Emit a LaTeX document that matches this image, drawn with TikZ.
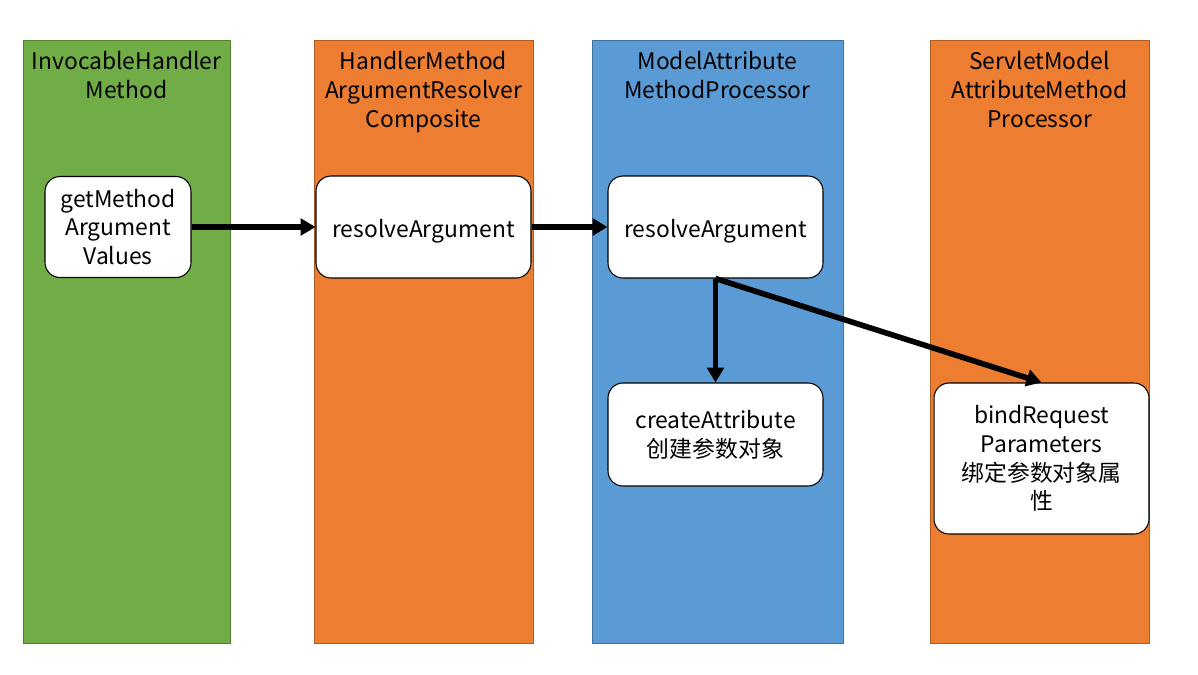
\documentclass[tikz,border=0pt]{standalone}
\usepackage{fontspec}
\setmainfont{Noto Sans CJK SC}
\usetikzlibrary{arrows.meta}
\definecolor{colgreen}{HTML}{70AD47}
\definecolor{colgreenline}{HTML}{507E32}
\definecolor{colorange}{HTML}{ED7D31}
\definecolor{colorangeline}{HTML}{AE5A21}
\definecolor{colblue}{HTML}{5B9BD5}
\definecolor{colblueline}{HTML}{41719C}
\tikzset{
    lane/.style={line width=0.5pt},
    lanetitle/.style={anchor=north, align=center, font=\fontsize{13}{16.4}\selectfont},
    methodbox/.style={draw=black, line width=0.6pt, fill=white, rounded corners=0.3cm,
        align=center, inner sep=2pt, font=\fontsize{13}{16.4}\selectfont},
    callarrow/.style={line width=3.2pt, -{Triangle[length=8.5pt,width=9.5pt]}}
}
\begin{document}
\begin{tikzpicture}[x=0.02cm, y=-0.02cm]
        \useasboundingbox (0,0) rectangle (1198,674);
        % Spalten
        \foreach \xa/\xb/\lanefill/\laneline in {
            23/230/colgreen/colgreenline,
            314/533/colorange/colorangeline,
            592/843/colblue/colblueline,
            930/1149/colorange/colorangeline} {
            \draw[lane, fill=\lanefill, draw=\laneline] (\xa, 40) rectangle (\xb, 643);
        }
        \node[lanetitle] (tinvocable) at (126.5, 45) {InvocableHandler\\Method};
        \node[lanetitle] (tcomposite) at (423.5, 45) {HandlerMethod\\ArgumentResolver\\Composite};
        \node[lanetitle] (tmodelattr) at (717.5, 45) {ModelAttribute\\MethodProcessor};
        \node[lanetitle] (tservlet) at (1039.5, 45) {ServletModel\\AttributeMethod\\Processor};

        % Methoden
        \node[methodbox, minimum width=2.92cm, minimum height=2.02cm] (gmav) at (118, 227)
            {getMethod\\Argument\\Values};
        \node[methodbox, minimum width=4.3cm, minimum height=2.04cm] (resolvecomp) at (423.5, 227)
            {\rule{0pt}{15pt}resolveArgument};
        \node[methodbox, minimum width=4.3cm, minimum height=2.04cm] (resolvemodel) at (715.5, 227)
            {\rule{0pt}{15pt}resolveArgument};
        \node[methodbox, minimum width=4.3cm, minimum height=2.06cm] (createattr) at (715.5, 434.5)
            {createAttribute\\创建参数对象};
        \node[methodbox, minimum width=4.3cm, minimum height=3.02cm] (bindparam) at (1041.5, 458.5)
            {bindRequest\\Parameters\\绑定参数对象属\\性};

        % Aufrufe
        \draw[callarrow] (gmav.east) -- (resolvecomp.west);
        \draw[callarrow] (resolvecomp.east) -- (resolvemodel.west);
        \draw[callarrow] (resolvemodel.south) -- (createattr.north);
        \draw[callarrow] (resolvemodel.south) -- (bindparam.north);
    \end{tikzpicture}
\end{document}
